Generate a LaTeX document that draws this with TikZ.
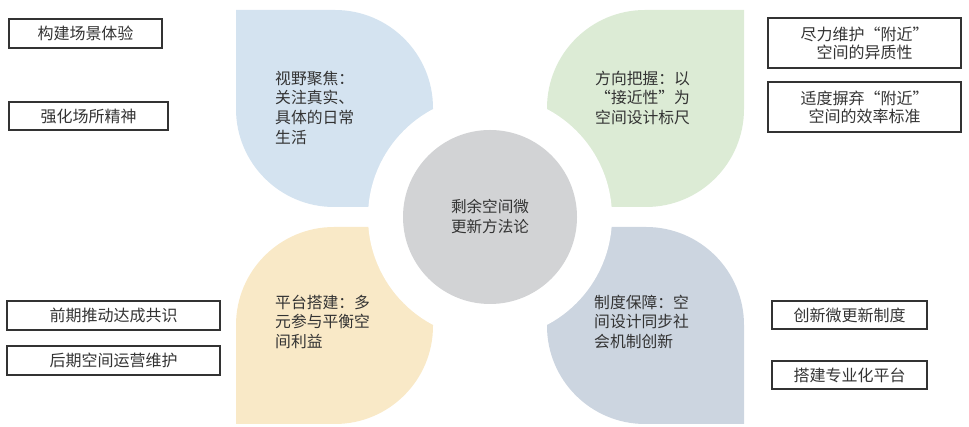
\documentclass[tikz,border=0pt]{standalone}
\usepackage{fontspec}
\newfontfamily\cjk{Noto Sans CJK SC}
\definecolor{petalblue}{HTML}{D4E3F0}
\definecolor{petalgreen}{HTML}{DCEBD5}
\definecolor{petalyellow}{HTML}{F9E9C7}
\definecolor{petalslate}{HTML}{CCD5E0}
\definecolor{coregray}{HTML}{D2D3D5}
\definecolor{inkgray}{HTML}{333333}

\begin{document}
\begin{tikzpicture}[x=1pt,y=1pt,
  sidebox/.style={draw=inkgray, line width=1.2pt, text=inkgray, align=center, inner sep=0pt,
    font=\cjk\fontsize{16}{18}\selectfont},
  petaltext/.style={anchor=north west, align=left, text=inkgray, inner sep=0pt,
    font=\cjk\fontsize{15.8}{19.7}\selectfont}]
\useasboundingbox (0,0) rectangle (969,427);
% four petals, mirrored round the centre
\foreach \sx/\sy/\col in {-1/1/petalblue, 1/1/petalgreen, -1/-1/petalyellow, 1/-1/petalslate}
  \fill[\col, shift={(490,210)}, xscale=\sx, yscale=\sy] (254,207) -- (155,207)
    arc[start angle=90, end angle=180, radius=98] -- (57,10) -- (156,10)
    arc[start angle=270, end angle=360, radius=98] -- cycle;
\fill[white] (490,210) circle (122);
\node[circle, fill=coregray, minimum size=174pt, inner sep=0pt, align=center, text=inkgray,
  font=\cjk\fontsize{15.6}{20}\selectfont] (core) at (490,210) {剩余空间微\\更新方法论};
% petal texts
\node[petaltext] (focus) at (275,356.5) {视野聚焦：\\关注真实、\\具体的日常\\生活};
\node[petaltext] (direction) at (595,356.5) {方向把握：以\\“接近性”为\\空间设计标尺};
\node[petaltext] (platform) at (275,132.5) {平台搭建：多\\元参与平衡空\\间利益};
\node[petaltext] (system) at (594,132.5) {制度保障：空\\间设计同步社\\会机制创新};
% side boxes
\node[sidebox, minimum width=153pt, minimum height=29pt] (scene) at (85.5,393.5) {构建场景体验};
\node[sidebox, minimum width=159pt, minimum height=28pt] (spirit) at (88.5,311) {强化场所精神};
\node[sidebox, minimum width=213pt, minimum height=29pt] (consensus) at (113.5,111.5) {前期推动达成共识};
\node[sidebox, minimum width=213pt, minimum height=29pt] (operate) at (113.5,66.5) {后期空间运营维护};
\node[sidebox, minimum width=193pt, minimum height=50pt] (hetero) at (864.5,384) {尽力维护“附近”\\空间的异质性};
\node[sidebox, minimum width=193pt, minimum height=50pt] (effic) at (864.5,320) {适度摒弃“附近”\\空间的效率标准};
\node[sidebox, minimum width=155pt, minimum height=28pt] (rules) at (849.5,112) {创新微更新制度};
\node[sidebox, minimum width=155pt, minimum height=28pt] (profession) at (849.5,52) {搭建专业化平台};
\end{tikzpicture}
\end{document}
